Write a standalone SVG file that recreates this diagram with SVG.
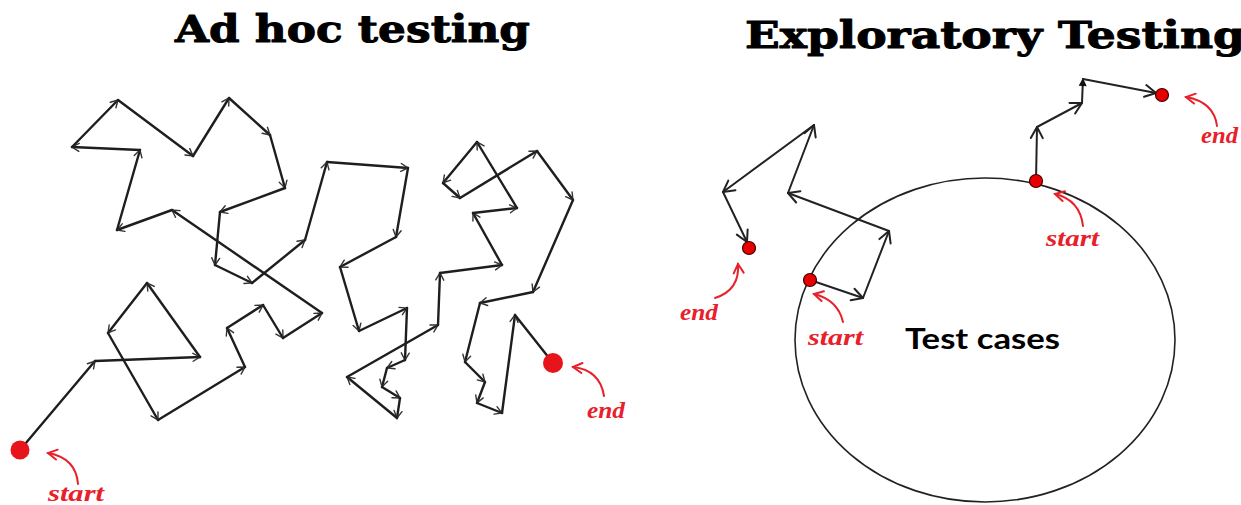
<svg xmlns="http://www.w3.org/2000/svg" width="1241" height="505" viewBox="0 0 1241 505">
<style>
.t{font-family:"DejaVu Serif","Liberation Serif",serif;font-weight:bold;font-size:38px;fill:#000;stroke:#000;stroke-width:1;stroke-linejoin:round}
.tc{font-family:Lato,"Open Sans","Liberation Sans",sans-serif;font-weight:bold;font-size:29px;fill:#000}
.red{font-family:"Liberation Serif","DejaVu Serif",serif;font-style:italic;font-weight:bold;font-size:24px;fill:#e8202a}
.a{stroke:#1e1e1e;stroke-width:2.4;fill:none;stroke-linecap:round;marker-end:url(#sa)}
.an{stroke:#1e1e1e;stroke-width:2.4;fill:none;stroke-linecap:round}
.b{stroke:#222;stroke-width:2;fill:none;stroke-linecap:round;marker-end:url(#la)}
.cr{stroke:#e8202a;stroke-width:2;fill:none;stroke-linecap:round;marker-end:url(#ra)}
.dot{fill:#e8141c}
.sdot{fill:#e60000;stroke:#400;stroke-width:1.2}
</style>
<defs>
<marker id="sa" markerUnits="userSpaceOnUse" markerWidth="20" markerHeight="20" refX="0" refY="0" orient="auto" overflow="visible">
<path d="M-7,-4 L0,0 L-7,4" fill="none" stroke="#333" stroke-width="1.4" stroke-linecap="round"/>
</marker>
<marker id="la" markerUnits="userSpaceOnUse" markerWidth="20" markerHeight="20" refX="0" refY="0" orient="auto" overflow="visible">
<path d="M-11,-6 L0,0 L-11,6" fill="none" stroke="#222" stroke-width="2" stroke-linecap="round" stroke-linejoin="round"/>
</marker>
<marker id="fa" markerUnits="userSpaceOnUse" markerWidth="20" markerHeight="20" refX="0" refY="0" orient="auto" overflow="visible">
<path d="M-8,-4 L0,0 L-8,4 Z" fill="#111"/>
</marker>
<marker id="ra" markerUnits="userSpaceOnUse" markerWidth="20" markerHeight="20" refX="0" refY="0" orient="auto" overflow="visible">
<path d="M-9,-5 L0,0 L-9,5" fill="none" stroke="#e8202a" stroke-width="2" stroke-linecap="round"/>
</marker>
</defs>
<rect width="1241" height="505" fill="#fff"/>

<g id="title-adhoc"><text class="t" x="175" y="42" textLength="355" lengthAdjust="spacingAndGlyphs">Ad hoc testing</text></g>
<g id="title-exploratory"><text class="t" x="745" y="48" textLength="500" lengthAdjust="spacingAndGlyphs">Exploratory Testing</text></g>

<g id="test-cases">
<ellipse cx="985" cy="340" rx="190" ry="162" fill="none" stroke="#222" stroke-width="1.6"/>
<text class="tc" x="905" y="349" textLength="155" lengthAdjust="spacingAndGlyphs">Test cases</text>
</g>

<g id="connectors">
<line class="a" x1="20" y1="450" x2="95" y2="361"/>
<line class="a" x1="95" y1="361" x2="200" y2="357"/>
<line class="a" x1="200" y1="357" x2="147" y2="283"/>
<line class="a" x1="147" y1="283" x2="108" y2="333"/>
<line class="a" x1="108" y1="333" x2="158" y2="420"/>
<line class="a" x1="158" y1="420" x2="245" y2="367"/>
<line class="a" x1="245" y1="367" x2="227" y2="328"/>
<line class="a" x1="227" y1="328" x2="263" y2="305"/>
<line class="a" x1="263" y1="305" x2="283" y2="338"/>
<line class="a" x1="283" y1="338" x2="322" y2="313"/>
<line class="a" x1="322" y1="313" x2="172" y2="210"/>
<line class="a" x1="172" y1="210" x2="117" y2="230"/>
<line class="a" x1="117" y1="230" x2="140" y2="150"/>
<line class="a" x1="140" y1="150" x2="72" y2="147"/>
<line class="a" x1="72" y1="147" x2="118" y2="100"/>
<line class="a" x1="118" y1="100" x2="193" y2="156"/>
<line class="a" x1="193" y1="156" x2="229" y2="98"/>
<line class="a" x1="229" y1="98" x2="270" y2="135"/>
<line class="a" x1="270" y1="135" x2="285" y2="188"/>
<line class="a" x1="285" y1="188" x2="220" y2="212"/>
<line class="a" x1="220" y1="212" x2="215" y2="265"/>
<line class="a" x1="215" y1="265" x2="252" y2="283"/>
<line class="a" x1="252" y1="283" x2="305" y2="240"/>
<line class="a" x1="305" y1="240" x2="327" y2="162"/>
<line class="a" x1="327" y1="162" x2="408" y2="168"/>
<line class="a" x1="408" y1="168" x2="396" y2="237"/>
<line class="a" x1="396" y1="237" x2="340" y2="267"/>
<line class="a" x1="340" y1="267" x2="359" y2="331"/>
<line class="a" x1="359" y1="331" x2="407" y2="308"/>
<line class="a" x1="407" y1="308" x2="405" y2="360"/>
<line class="a" x1="405" y1="360" x2="387" y2="368"/>
<line class="a" x1="387" y1="368" x2="382" y2="387"/>
<line class="a" x1="382" y1="387" x2="400" y2="398"/>
<line class="a" x1="400" y1="398" x2="397" y2="418"/>
<line class="a" x1="397" y1="418" x2="347" y2="377"/>
<line class="a" x1="347" y1="377" x2="438" y2="325"/>
<line class="a" x1="438" y1="325" x2="440" y2="273"/>
<line class="a" x1="440" y1="273" x2="502" y2="265"/>
<line class="a" x1="502" y1="265" x2="473" y2="213"/>
<line class="a" x1="473" y1="213" x2="517" y2="208"/>
<line class="a" x1="517" y1="208" x2="477" y2="142"/>
<line class="a" x1="477" y1="142" x2="443" y2="183"/>
<line class="a" x1="443" y1="183" x2="460" y2="198"/>
<line class="a" x1="460" y1="198" x2="537" y2="151"/>
<line class="a" x1="537" y1="151" x2="573" y2="200"/>
<line class="a" x1="573" y1="200" x2="533" y2="292"/>
<line class="a" x1="533" y1="292" x2="480" y2="303"/>
<line class="a" x1="480" y1="303" x2="465" y2="362"/>
<line class="a" x1="465" y1="362" x2="485" y2="382"/>
<line class="a" x1="485" y1="382" x2="477" y2="403"/>
<line class="a" x1="477" y1="403" x2="502" y2="413"/>
<line class="a" x1="502" y1="413" x2="515" y2="315"/>
<line class="an" x1="515" y1="315" x2="553" y2="363"/>

<line class="b" x1="810" y1="280" x2="863" y2="298"/>
<line class="b" x1="863" y1="298" x2="889" y2="231"/>
<line class="b" x1="889" y1="231" x2="788" y2="193"/>
<line class="b" x1="788" y1="193" x2="814" y2="125"/>
<line class="b" x1="814" y1="125" x2="723" y2="192"/>
<line class="b" x1="723" y1="192" x2="747" y2="242"/>

<line class="b" x1="1036" y1="181" x2="1037" y2="127"/>
<line class="b" x1="1037" y1="127" x2="1082" y2="103"/>
<line stroke="#222" stroke-width="2" marker-end="url(#fa)" x1="1082" y1="103" x2="1083" y2="78"/>
<line class="b" x1="1083" y1="79" x2="1156" y2="93"/>

<path class="cr" d="M78,484 Q76,458 48,453"/>
<path class="cr" d="M604,396 Q600,370 573,367"/>
<path class="cr" d="M715,298 Q740,290 738,264"/>
<path class="cr" d="M843,322 Q838,300 814,294"/>
<path class="cr" d="M1083,226 Q1080,200 1055,194"/>
<path class="cr" d="M1217,126 Q1214,102 1186,97"/>
</g>

<g id="adhoc-start"><circle class="dot" cx="20" cy="450" r="9.5"/><text class="red" x="48" y="501" textLength="56" lengthAdjust="spacingAndGlyphs">start</text></g>
<g id="adhoc-end"><circle class="dot" cx="553" cy="363" r="10"/><text class="red" x="587" y="418" textLength="38" lengthAdjust="spacingAndGlyphs">end</text></g>
<g id="exp1-start"><circle class="sdot" cx="810" cy="280" r="6.5"/><text class="red" x="808" y="345" textLength="55" lengthAdjust="spacingAndGlyphs">start</text></g>
<g id="exp1-end"><circle class="sdot" cx="749" cy="248" r="6.5"/><text class="red" x="680" y="320" textLength="38" lengthAdjust="spacingAndGlyphs">end</text></g>
<g id="exp2-start"><circle class="sdot" cx="1036" cy="181" r="6.5"/><text class="red" x="1046" y="246" textLength="53" lengthAdjust="spacingAndGlyphs">start</text></g>
<g id="exp2-end"><circle class="sdot" cx="1162" cy="95" r="6.5"/><text class="red" x="1201" y="143" textLength="37" lengthAdjust="spacingAndGlyphs">end</text></g>
</svg>
